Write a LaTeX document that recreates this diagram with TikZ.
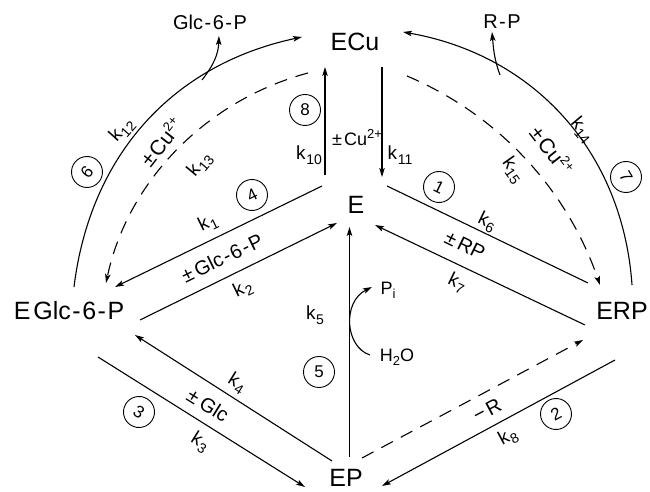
\documentclass[tikz,border=0pt]{standalone}
\usepackage{fontspec}
\setmainfont{Liberation Sans}
\usetikzlibrary{arrows.meta}

% rate constant with a lowered index
\newcommand\kr[1]{k\kern0.6pt\raisebox{-4.5pt}{\fontsize{14}{14}\selectfont #1}}
% copper ion label
\newcommand\cuion[1]{±\kern2pt Cu\raisebox{#1}{\fontsize{13}{13}\selectfont 2+}}
% spaced hyphen
\newcommand\hy{\kern1.5pt-\kern1.5pt}

\tikzset{
  species/.style={font=\fontsize{25}{25}\selectfont, inner sep=0pt},
  prod/.style={font=\fontsize{20}{20}\selectfont, inner sep=0pt},
  lab/.style={font=\fontsize{20}{20}\selectfont, inner sep=0pt},
  culab/.style={font=\fontsize{21}{21}\selectfont, inner sep=0pt},
  klab/.style={font=\fontsize{19}{19}\selectfont, inner sep=0pt},
  stepno/.style={circle, draw, line width=0.9pt, minimum size=31pt, inner sep=0pt,
                 font=\fontsize{17}{17}\selectfont},
  tip/.style={-{Stealth[length=9pt,width=5.5pt,inset=2pt]}},
  rxn/.style={line width=1.1pt, tip},
  plainline/.style={line width=1.1pt},
  dashline/.style={line width=1.1pt, dash pattern=on 13pt off 9pt},
}

\begin{document}
\begin{tikzpicture}[x=1pt,y=1pt]
\useasboundingbox (0,0) rectangle (650,492);

% enzyme species
\node[species] (ECu) at (355,450) {ECu};
\node[species] (E)   at (356,287) {E};
\node[species] (EG)  at (69,181)  {E\kern3pt Glc\hy 6\hy P};
\node[species] (ERP) at (622,181) {ERP};
\node[species] (EP)  at (346,14)  {EP};

% released products and water
\node[prod] (G6P) at (210,470) {Glc\hy 6\hy P};
\node[prod] (RPp) at (502,470) {R\hy P};
\node[lab, font=\fontsize{18}{18}\selectfont] (Pi)  at (388,202) {P\raisebox{-4pt}{\fontsize{13}{13}\selectfont i}};
\node[lab, font=\fontsize{18}{18}\selectfont] (H2O) at (397,135) {H\raisebox{-4pt}{\fontsize{13}{13}\selectfont 2}O};

% end points of the connectors
\coordinate (c10a) at (325,317); \coordinate (c10b) at (325,425);
\coordinate (c11a) at (382,425); \coordinate (c11b) at (382,315);
\coordinate (c1a) at (322,306);  \coordinate (c1b) at (115,205);
\coordinate (c2a) at (140,172);  \coordinate (c2b) at (337,269);
\coordinate (c6a) at (387,306);  \coordinate (c6b) at (588,209);
\coordinate (c7a) at (585,167);  \coordinate (c7b) at (375,267);
\coordinate (c4a) at (332,31);   \coordinate (c4b) at (135,157);
\coordinate (c3a) at (98,135);   \coordinate (c3b) at (305,5);
\coordinate (c9a) at (362,34);   \coordinate (c9b) at (583,152);
\coordinate (c8a) at (615,132);  \coordinate (c8b) at (382,6);
\coordinate (c5a) at (349.5,35); \coordinate (c5b) at (349.5,265);
\coordinate (c12a) at (74,205);  \coordinate (c12b) at (302,455);
\coordinate (c14a) at (632,207); \coordinate (c14b) at (403,460);
\coordinate (c13a) at (308,419); \coordinate (c13b) at (106,209);
\coordinate (c15a) at (407,416); \coordinate (c15b) at (600,207);
\coordinate (g6pfrom) at (202,412); \coordinate (g6pto) at (219,456);
\coordinate (rpfrom) at (500,417);  \coordinate (rpto) at (492,460);
\coordinate (h2oend) at (370,137);  \coordinate (piend) at (372,205);

% ECu <-> E
\draw[rxn] (c10a) -- (c10b);
\draw[rxn] (c11a) -- (c11b);
% E <-> EGlc-6-P
\draw[rxn] (c1a) -- (c1b);
\draw[rxn] (c2a) -- (c2b);
% E <-> ERP
\draw[plainline] (c6a) -- (c6b);
\draw[rxn] (c7a) -- (c7b);
% EGlc-6-P <-> EP
\draw[rxn] (c4a) -- (c4b);
\draw[rxn] (c3a) -- (c3b);
% EP <-> ERP
\draw[rxn, dashline] (c9a) -- (c9b);
\draw[rxn] (c8a) -- (c8b);
% EP -> E with hydrolysis
\draw[rxn] (c5a) -- (c5b);
\draw[rxn] (h2oend) .. controls (345,145) and (342,190) .. (piend);

% outer routes through ECu
\draw[rxn] (c12a) to[out=83,in=192] (c12b);
\draw[rxn] (c14a) to[out=94,in=-10] (c14b);
\draw[rxn, dashline] (c13a) to[out=195,in=78,looseness=0.92] (c13b);
\draw[rxn, dashline] (c15a) to[out=-23,in=109,looseness=0.9] (c15b);
\draw[rxn] (g6pfrom) to[out=52,in=-92] (g6pto);
\draw[rxn] (rpfrom) to[out=110,in=-85] (rpto);

% step numbers
\node[stepno] (s8) at (305,382) {8};
\node[stepno, rotate=50] (s6) at (87,320) {6};
\node[stepno, rotate=26] (s4) at (252,297) {4};
\node[stepno, rotate=-26] (s1) at (439,305) {1};
\node[stepno, rotate=-60] (s7) at (626,315) {7};
\node[stepno, rotate=-32] (s3) at (139,80) {3};
\node[stepno] (s5) at (319,120) {5};
\node[stepno, rotate=28] (s2) at (556,78) {2};

% rate constants and ligands
\node[lab, font=\fontsize{18}{18}\selectfont] (cumid) at (357,354) {\cuion{7pt}};
\node[klab] (k10) at (309,337) {\kr{10}};
\node[klab] (k11) at (400,337) {\kr{11}};
\node[klab, rotate=48] (k12) at (122,362) {\kr{12}};
\node[culab, rotate=52] (culeft) at (161,350) {\cuion{8pt}};
\node[klab, rotate=50] (k13) at (200,327) {\kr{13}};
\node[klab, rotate=-50] (k14) at (582,362) {\kr{14}};
\node[culab, rotate=-52] (curight) at (552,342) {\cuion{8pt}};
\node[klab, rotate=-55] (k15) at (513,322) {\kr{15}};
\node[klab, rotate=26] (k1) at (208,269) {\kr{1}};
\node[lab, rotate=26] (g6plab) at (222,234) {±\kern3pt Glc\hy 6\hy P};
\node[klab, rotate=26] (k2) at (243,203) {\kr{2}};
\node[klab, rotate=-26] (k6) at (487,270) {\kr{6}};
\node[lab, rotate=-26] (rplab) at (465,247) {±\kern3pt RP};
\node[klab, rotate=-26] (k7) at (457,209) {\kr{7}};
\node[klab, rotate=-32] (k4) at (237,109) {\kr{4}};
\node[lab, rotate=-32] (glclab) at (208,87) {±\kern4pt Glc};
\node[klab, rotate=-32] (k3) at (200,50) {\kr{3}};
\node[lab, rotate=28] (rlab) at (487,82) {−\kern3pt R};
\node[klab, rotate=28] (k8) at (508,55) {\kr{8}};
\node[klab] (k5) at (315,177) {\kr{5}};
\end{tikzpicture}
\end{document}
